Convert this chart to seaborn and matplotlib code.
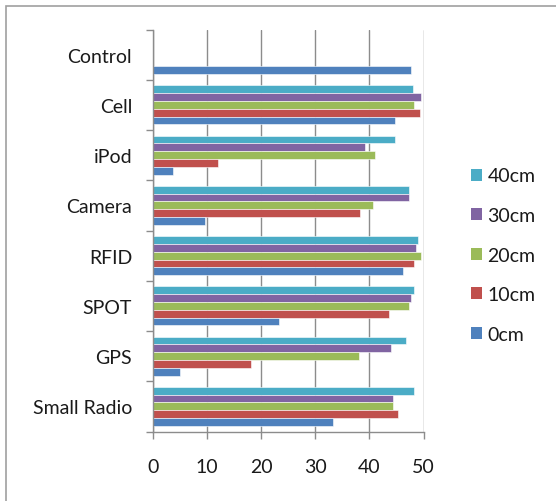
import pandas as pd
import numpy as np
import matplotlib
matplotlib.use("Agg")
import matplotlib.pyplot as plt
import seaborn as sns
from matplotlib.patches import Rectangle, Patch

# categories, top to bottom as drawn
devices = ["Control", "Cell", "iPod", "Camera", "RFID", "SPOT", "GPS", "Small Radio"]
series = ["40cm", "30cm", "20cm", "10cm", "0cm"]

vals_0cm = [47.7, 44.7, 3.7, 9.6, 46.2, 23.3, 4.9, 33.3]
vals_10cm = [np.nan, 49.3, 12.0, 38.3, 48.3, 43.7, 18.1, 45.3]
vals_20cm = [np.nan, 48.3, 41.1, 40.7, 49.6, 47.4, 38.0, 44.3]
vals_30cm = [np.nan, 49.6, 39.2, 47.4, 48.6, 47.7, 44.0, 44.3]
vals_40cm = [np.nan, 48.0, 44.7, 47.4, 49.0, 48.3, 46.8, 48.3]

colors = {"0cm": "#4F81BD", "10cm": "#C0504D", "20cm": "#9BBB59",
          "30cm": "#8064A2", "40cm": "#4BACC6"}

df = pd.DataFrame({"device": devices, "0cm": vals_0cm, "10cm": vals_10cm,
                   "20cm": vals_20cm, "30cm": vals_30cm, "40cm": vals_40cm})
long = df.melt(id_vars="device", var_name="dist", value_name="value").dropna()

sns.set_style("white")
plt.rcParams["font.family"] = ["Lato", "DejaVu Sans"]
fs = 14

fig = plt.figure(figsize=(5.56, 5.02), dpi=100)
ax = fig.add_axes([153 / 556, 1 - 432.5 / 502, 270.5 / 556, 402 / 502])

sns.barplot(data=long, x="value", y="device", hue="dist", order=devices,
            hue_order=series, palette=colors, orient="h", width=0.78,
            dodge=True, ax=ax, legend=False, edgecolor="white", linewidth=0.4,
            saturation=1)

ax.set_xlim(0, 50)
ax.set_ylim(len(devices) - 0.5, -0.5)
ax.set_xticks([0, 10, 20, 30, 40, 50])
ax.set_xlabel("")
ax.set_ylabel("")
ax.xaxis.grid(True, color="#8c8c8c", linewidth=1.0)
ax.set_axisbelow(True)

# category ticks sit between groups, labels at group centres
ax.set_yticks(np.arange(-0.5, len(devices), 1.0))
ax.set_yticklabels([])
ax.set_yticks(np.arange(len(devices)), minor=True)
ax.set_yticklabels(devices, minor=True)
ax.tick_params(axis="y", which="major", length=5, width=1, color="#8c8c8c", direction="out", left=True)
ax.tick_params(axis="y", which="minor", length=0, pad=15, labelsize=fs, labelcolor="#1a1a1a")
ax.tick_params(axis="x", length=5, width=1, color="#8c8c8c", direction="out", bottom=True,
               pad=14, labelsize=fs, labelcolor="#1a1a1a")

for side in ["top", "right"]:
    ax.spines[side].set_visible(False)
for side in ["left", "bottom"]:
    ax.spines[side].set_color("#8c8c8c")
    ax.spines[side].set_linewidth(1.0)

handles = [Patch(facecolor=colors[s], edgecolor="none") for s in series]
fig.legend(handles, series, loc="upper left", bbox_to_anchor=(453 / 556, 1 - 151 / 502),
           frameon=False, handlelength=0.57, handleheight=0.57, handletextpad=0.3,
           labelspacing=1.16, fontsize=fs, labelcolor="#1a1a1a")

# outer chart frame
fig.patches.append(Rectangle((6 / 556, -0.1), 1.2, 1 - 7 / 502 + 0.1,
                             transform=fig.transFigure, fill=False,
                             edgecolor="#a0a0a0", linewidth=1.2))

fig.savefig("out.png", dpi=100)
